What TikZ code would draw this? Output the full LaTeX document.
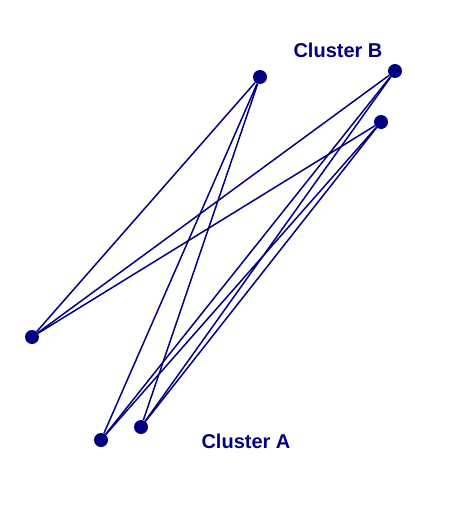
\documentclass[tikz,border=0pt]{standalone}
\usepackage{fontspec}
\setmainfont{Liberation Sans}
\definecolor{navy}{RGB}{0,0,128}
\begin{document}
\begin{tikzpicture}[x=1pt,y=-1pt,
  dot/.style={circle,fill=navy,inner sep=0pt,minimum size=14pt},
  edge/.style={draw=navy,line width=1.5pt},
  lbl/.style={text=navy,font=\fontsize{20}{24}\selectfont\bfseries,inner sep=0pt}]
\useasboundingbox (0,0) rectangle (450,506);
\node[dot] (b1) at (260,77) {};
\node[dot] (b2) at (395,71) {};
\node[dot] (b3) at (381,122) {};
\node[dot] (a1) at (32,337) {};
\node[dot] (a2) at (101,440) {};
\node[dot] (a3) at (141,427) {};
\foreach \u in {b1,b2,b3}
  \foreach \v in {a1,a2,a3}
    \draw[edge] (\u) -- (\v);
\node[lbl] (lb) at (338,50) {Cluster B};
\node[lbl] (la) at (246,441) {Cluster A};
\end{tikzpicture}
\end{document}
